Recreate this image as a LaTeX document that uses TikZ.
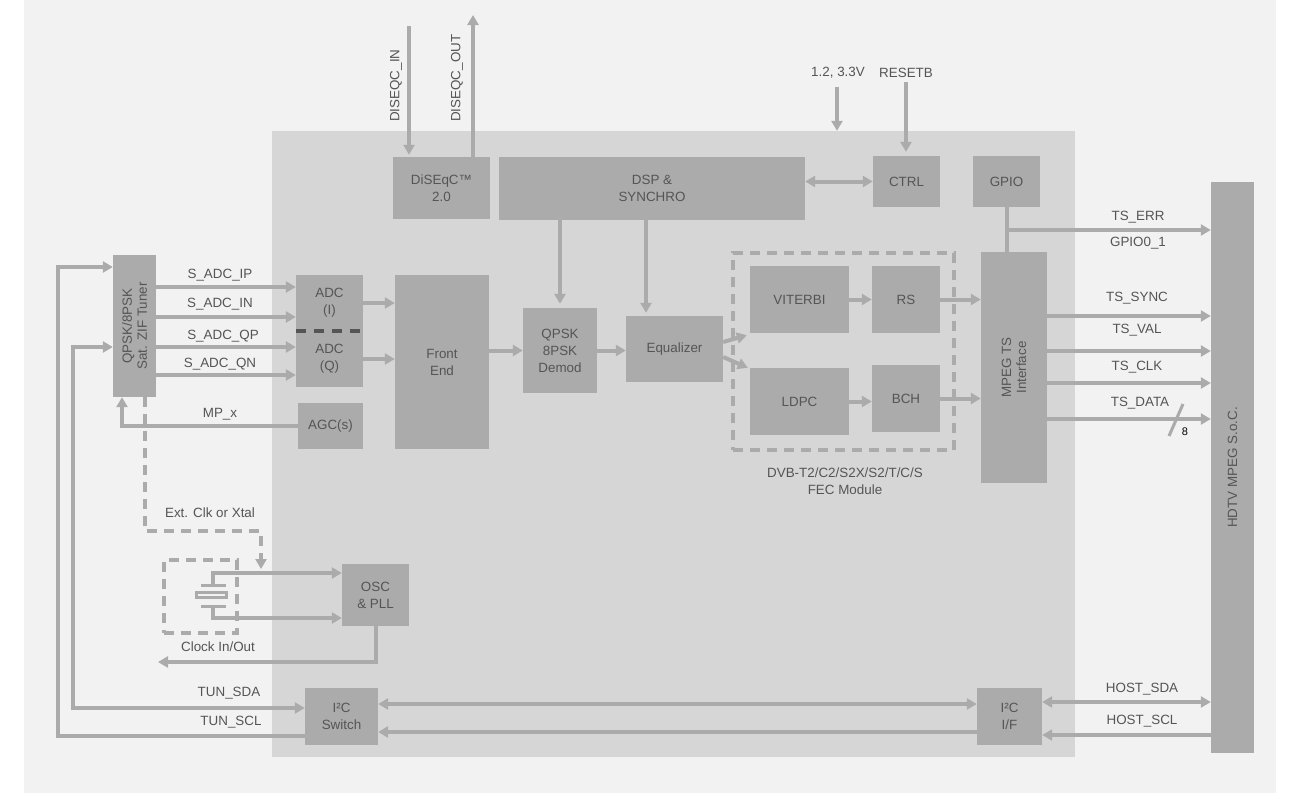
\documentclass[tikz,border=0pt]{standalone}
\usepackage{fontspec}
\setmainfont{Liberation Sans}
\usetikzlibrary{arrows.meta}
\definecolor{pagebg}{HTML}{F2F2F2}
\definecolor{chipgray}{HTML}{D6D6D6}
\definecolor{blockgray}{HTML}{ABABAB}
\definecolor{wiregray}{HTML}{ABABAB}
\definecolor{textgray}{HTML}{555555}
\definecolor{sepgray}{HTML}{555555}

\begin{document}
\begin{tikzpicture}[x=1pt, y=-1pt,
    font=\fontsize{13.4}{17}\selectfont, text=textgray,
    block/.style={fill=blockgray, inner sep=0pt, align=center},
    lab/.style={inner sep=0pt, align=center},
    wire/.style={draw=wiregray, line width=4pt},
    arr/.style={wire, -{Triangle[length=10pt, width=11pt]}},
    darr/.style={wire, {Triangle[length=10pt, width=11pt]}-{Triangle[length=10pt, width=11pt]}},
    dashwire/.style={wire, dash pattern=on 10pt off 7pt}]
    \useasboundingbox (0,0) rectangle (1300,793);
    % Page and chip
    \fill[pagebg] (24,0) rectangle (1276,793);
    \node[fill=chipgray, inner sep=0pt, minimum width=803pt, minimum height=626pt] (chip) at (673.5,444) {};
    % Blocks
    \node[block, minimum width=43pt, minimum height=142pt] (tuner) at (134.5,326) {};
    \node[lab, rotate=90, font=\fontsize{13.4}{15}\selectfont] (tunertxt) at (tuner) {QPSK/8PSK\\Sat. ZIF Tuner};
    \node[block, minimum width=97pt, minimum height=62pt] (diseqc) at (441.5,188) {DiSEqC™\\2.0};
    \node[block, minimum width=306pt, minimum height=63pt] (dsp) at (652,188.5) {DSP \&\\SYNCHRO};
    \node[block, minimum width=67pt, minimum height=51pt] (ctrl) at (906.5,181.5) {CTRL};
    \node[block, minimum width=67pt, minimum height=51pt] (gpio) at (1006.5,181.5) {GPIO};
    \node[block, minimum width=67pt, minimum height=56pt] (adci) at (329.5,303) {ADC\\(I)};
    \node[block, minimum width=67pt, minimum height=56pt] (adcq) at (329.5,359) {ADC\\(Q)};
    \draw[sepgray, line width=4pt, dash pattern=on 10pt off 8pt] (adci.south west) -- (adci.south east);
    \node[block, minimum width=65pt, minimum height=46pt] (agc) at (330.5,426) {AGC(s)};
    \node[block, minimum width=94pt, minimum height=174pt] (frontend) at (442,362) {Front\\End};
    \node[block, minimum width=74pt, minimum height=85pt] (demod) at (560,350.5) {QPSK\\8PSK\\Demod};
    \node[block, minimum width=97pt, minimum height=66pt] (eq) at (674.5,349) {Equalizer};
    \node[block, minimum width=99pt, minimum height=67pt] (viterbi) at (799.5,299.5) {VITERBI};
    \node[block, minimum width=68pt, minimum height=67pt] (rs) at (906,299.5) {RS};
    \node[block, minimum width=99pt, minimum height=67pt] (ldpc) at (799.5,401.5) {LDPC};
    \node[block, minimum width=68pt, minimum height=67pt] (bch) at (906,398.5) {BCH};
    \node[draw=wiregray, line width=4pt, dash pattern=on 10pt off 7pt, inner sep=0pt,
      minimum width=221pt, minimum height=197pt] (fec) at (843.5,351.5) {};
    \node[lab] (fectxt) at (845,481) {DVB-T2/C2/S2X/S2/T/C/S\\FEC Module};
    \node[block, minimum width=66pt, minimum height=231pt] (mpegts) at (1014,367.5) {};
    \node[lab, rotate=90, font=\fontsize{13.4}{15}\selectfont] (mpegtstxt) at (mpegts) {MPEG TS\\Interface};
    \node[block, minimum width=43pt, minimum height=571pt] (soc) at (1232.5,467.5) {};
    \node[lab, rotate=90] (soctxt) at (soc) {HDTV MPEG S.o.C.};
    \node[block, minimum width=67pt, minimum height=62pt] (osc) at (375.5,595) {OSC\\\& PLL};
    \node[block, minimum width=73pt, minimum height=57pt] (i2cs) at (341.5,716.5) {I²C\\Switch};
    \node[block, minimum width=65pt, minimum height=57pt] (i2cif) at (1009.5,716.5) {I²C\\I/F};
    % DiSEqC lines
    \coordinate (dqin) at (409,26);
    \coordinate (dqout) at (473,15);
    \draw[arr, shorten >=2pt] (dqin) -- (dqin |- diseqc.north);
    \draw[arr] (dqout |- diseqc.north) -- (dqout);
    \node[lab, rotate=90, anchor=west] (ldqin) at (396,122) {DISEQC\_IN};
    \node[lab, rotate=90, anchor=west] (ldqout) at (457,122) {DISEQC\_OUT};
    % Supply and reset
    \coordinate (pwr) at (837,87);
    \coordinate (rst) at (906,82);
    \draw[arr] (pwr) -- (pwr |- chip.north);
    \draw[arr, shorten >=4pt] (rst) -- (rst |- ctrl.north);
    \node[lab] (lpwr) at (838,73) {1.2, 3.3V};
    \node[lab] (lrst) at (906,73) {RESETB};
    \draw[darr] (dsp.east |- ctrl.west) -- (ctrl.west);
    % GPIO
    \coordinate (tserr) at (1008,230);
    \draw[wire] (gpio.south) -- (gpio.south |- mpegts.north);
    \draw[arr] (gpio.south |- tserr) -- (soc.west |- tserr);
    \node[lab] (lerr) at (1138,217) {TS\_ERR};
    \node[lab] (lgpio) at (1138,243) {GPIO0\_1};
    % Tuner to ADC
    \coordinate (ip) at (0,287);
    \coordinate (in) at (0,317);
    \coordinate (qp) at (0,347);
    \coordinate (qn) at (0,375);
    \draw[arr] (tuner.east |- ip) -- (adci.west |- ip);
    \draw[arr] (tuner.east |- in) -- (adci.west |- in);
    \draw[arr] (tuner.east |- qp) -- (adcq.west |- qp);
    \draw[arr] (tuner.east |- qn) -- (adcq.west |- qn);
    \node[lab] (lip) at (220,275) {S\_ADC\_IP};
    \node[lab] (lin) at (220,304) {S\_ADC\_IN};
    \node[lab] (lqp) at (223,336) {S\_ADC\_QP};
    \node[lab] (lqn) at (220,364) {S\_ADC\_QN};
    % AGC
    \coordinate (mpx) at (122,427);
    \draw[arr] (agc.west) -- (agc.west -| mpx) -- (mpx |- tuner.south);
    \node[lab] (lmpx) at (220,414) {MP\_x};
    % Signal chain
    \draw[arr] (adci.east) -- (adci.east -| frontend.west);
    \draw[arr] (adcq.east) -- (adcq.east -| frontend.west);
    \draw[arr] (frontend.east |- demod) -- (demod.west);
    \draw[arr] (demod.east) -- (demod.east -| eq.west);
    \coordinate (dspeq) at (646,0);
    \draw[arr, shorten >=4pt] (dsp.south -| demod) -- (demod.north);
    \draw[arr, shorten >=3pt] (dsp.south -| dspeq) -- (eq.north -| dspeq);
    \draw[arr] ([yshift=7pt]eq.east) -- ([xshift=-3pt, yshift=-2pt]viterbi.south west);
    \draw[arr] ([yshift=-8pt]eq.east) -- ([xshift=-2pt]ldpc.north west);
    \draw[arr] (viterbi.east) -- (rs.west);
    \draw[arr] (ldpc.east) -- (ldpc.east -| bch.west);
    \draw[arr] (rs.east) -- (rs.east -| mpegts.west);
    \draw[arr] (bch.east) -- (bch.east -| mpegts.west);
    % Transport stream
    \foreach \y in {316,351,383,419} {
      \coordinate (ts\y) at (0,\y);
      \draw[arr] (mpegts.east |- ts\y) -- (soc.west |- ts\y);
    }
    \node[lab] (lsync) at (1137,298) {TS\_SYNC};
    \node[lab] (lval) at (1137,330) {TS\_VAL};
    \node[lab] (lclk) at (1137,367) {TS\_CLK};
    \node[lab] (ldata) at (1140,403) {TS\_DATA};
    \draw[wire, line width=3pt] (1169,436) -- (1183,404);
    \node[lab, text=black, font=\fontsize{11}{13}\selectfont] (lwidth) at (1185,432) {8};
    % Clock
    \coordinate (extx) at (145,531);
    \coordinate (exty) at (261,531);
    \coordinate (extend) at (261,569);
    \draw[dashwire, -{Triangle[length=10pt, width=11pt]}] (tuner.south -| extx) -- (extx) -- (exty) -- (extend);
    \node[lab] (lext) at (210,513) {Ext. Clk or Xtal};
    \node[draw=wiregray, line width=4pt, dash pattern=on 10pt off 7pt, inner sep=0pt,
      minimum width=73pt, minimum height=73pt] (xtalbox) at (200.5,596.5) {};
    \node[draw=wiregray, line width=3pt, fill=pagebg, inner sep=0pt,
      minimum width=30pt, minimum height=5pt] (xtal) at (211.5,595) {};
    \draw[wiregray, line width=3pt] (201,585) -- (226,585);
    \draw[wiregray, line width=3pt] (201,606) -- (226,606);
    \coordinate (xtop) at (213,573);
    \coordinate (xbot) at (213,618);
    \draw[arr] (213,585) -- (xtop) -- (osc.west |- xtop);
    \draw[arr] (213,606) -- (xbot) -- (osc.west |- xbot);
    \coordinate (clkout) at (158,662);
    \draw[arr] (osc.south) |- (clkout);
    \node[lab] (lclkio) at (218,647) {Clock In/Out};
    % I2C
    \coordinate (sclx) at (58,736);
    \coordinate (scly) at (58,267);
    \coordinate (sdax) at (73,708);
    \coordinate (sday) at (73,347);
    \draw[arr] (i2cs.west |- sclx) -- (sclx) -- (scly) -- (tuner.west |- scly);
    \draw[darr] (i2cs.west |- sdax) -- (sdax) -- (sday) -- (tuner.west |- sday);
    \node[lab] (ltsda) at (229,693) {TUN\_SDA};
    \node[lab] (ltscl) at (231,722) {TUN\_SCL};
    \coordinate (i2ca) at (0,704);
    \coordinate (i2cb) at (0,732);
    \draw[darr] (i2cs.east |- i2ca) -- (i2cif.west |- i2ca);
    \draw[arr] (i2cif.west |- i2cb) -- (i2cs.east |- i2cb);
    \coordinate (hsda) at (0,702);
    \coordinate (hscl) at (0,735);
    \draw[darr] (i2cif.east |- hsda) -- (soc.west |- hsda);
    \draw[arr] (soc.west |- hscl) -- (i2cif.east |- hscl);
    \node[lab] (lhsda) at (1142,689) {HOST\_SDA};
    \node[lab] (lhscl) at (1142,721) {HOST\_SCL};
\end{tikzpicture}
\end{document}
